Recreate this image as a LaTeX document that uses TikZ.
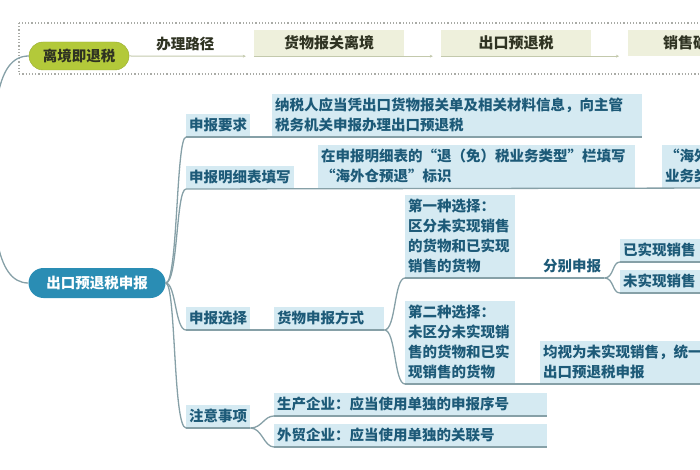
\documentclass[tikz,border=0pt]{standalone}
\usepackage{fontspec}
\setmainfont{Noto Sans CJK SC}
\usetikzlibrary{arrows.meta}

\definecolor{linec}{HTML}{86A0A7}
\definecolor{boxc}{HTML}{D5EAF2}
\definecolor{txtc}{HTML}{1D5A78}
\definecolor{rootc}{HTML}{2A8DB4}
\definecolor{greenc}{HTML}{B3C93A}
\definecolor{pathc}{HTML}{EEF0DC}
\definecolor{pathl}{HTML}{C3C9AC}
\definecolor{dotc}{HTML}{A9ABA6}
\definecolor{darkc}{HTML}{2F3322}

\tikzset{
  branch/.style={draw=linec, line width=1.3pt},
  pathline/.style={draw=pathl, line width=1pt},
  topic/.style={fill=boxc, text=txtc, anchor=south west, align=left,
    inner xsep=3pt, inner ysep=4.5pt},
  plain/.style={topic, fill=none},
  pathbox/.style={fill=pathc, text=darkc, minimum width=150pt, minimum height=26pt,
    font=\fontsize{15pt}{20pt}\selectfont\bfseries},
}

\begin{document}
\begin{tikzpicture}[x=1pt,y=-1pt,>={Stealth[length=3pt,width=3pt]},
  font=\fontsize{14.5pt}{20pt}\selectfont\bfseries]
\useasboundingbox (0,0) rectangle (700,470);
\clip (0,0) rectangle (700,470);
\coordinate (rootA) at (-3,100);
\coordinate (rootB) at (-3,240);

% top strip
\draw[dotted, draw=dotc, line width=1.2pt] (19,23) rectangle (730,74);
\node[fill=greenc, draw=greenc!85!black, text=darkc, rounded corners=14pt,
  minimum width=100pt, minimum height=28pt] (lj) at (79,56) {离境即退税};
\node[pathbox] (h1) at (329,43) {货物报关离境};
\node[pathbox] (h2) at (516,43) {出口预退税};
\node[pathbox, anchor=west, align=left, text width=80pt, inner xsep=35pt] (h3) at (628,43) {销售确认};
\draw[pathline,->,shorten >=8pt] (lj.east) -- node[pos=0.45, above=1pt, text=darkc] {办理路径} (h1.south west);
\draw[pathline,->,shorten >=8pt] (h1.south west) -- (h1.south east) -- (h2.south west);
\draw[pathline,->,shorten >=9pt] (h2.south west) -- (h2.south east) -- (h3.south west);

% main branch
\node[fill=rootc, text=white, rounded corners=15pt, minimum width=137pt,
  minimum height=30pt] (bl) at (97,283) {出口预退税申报};
\draw[branch] (lj.west) .. controls (12,56) and (2,70) .. (rootA);
\draw[branch] (rootB) .. controls (2,268) and (12,283) .. (bl.west);

\node[topic, text width=58pt] (r1) at (186,137) {申报要求};
\node[topic, text width=364pt] (r1a) at (272,137) {纳税人应当凭出口货物报关单及相关材料信息，向主管\\税务机关申报办理出口预退税};

\node[topic, text width=102pt] (r2) at (186,189) {申报明细表填写};
\node[topic, text width=311pt] (r2a) at (318,188) {在申报明细表的“退（免）税业务类型”栏填写\\“海外仓预退”标识};
\node[topic, text width=60pt] (r2b) at (662,188) {“海外\\业务类};

\node[topic, text width=58pt] (r3) at (186,330) {申报选择};
\node[topic, text width=104pt] (r3a) at (274,330) {货物申报方式};
\node[topic, text width=104pt] (c1) at (405,278) {第一种选择：\\区分未实现销售\\的货物和已实现\\销售的货物};
\node[plain, text width=58pt] (c1a) at (540,278) {分别申报};
\node[topic, text width=100pt] (c1b) at (620,262) {已实现销售};
\node[topic, text width=100pt] (c1c) at (620,293) {未实现销售};
\node[topic, text width=104pt] (c2) at (405,384) {第二种选择：\\未区分未实现销\\售的货物和已实\\现销售的货物};
\node[topic, text width=200pt] (c2a) at (540,384) {均视为未实现销售，统一\\出口预退税申报};

\node[topic, text width=58pt] (r4) at (186,428) {注意事项};
\node[topic, text width=267pt] (r4a) at (274,416) {生产企业：应当使用单独的申报序号};
\node[topic, text width=267pt] (r4b) at (274,447) {外贸企业：应当使用单独的关联号};

% connectors
\draw[branch] (bl.east) .. controls (178,283) and (176,137) .. (r1.south west);
\draw[branch] (bl.east) .. controls (178,283) and (176,189) .. (r2.south west);
\draw[branch] (bl.east) .. controls (176,283) and (175,330) .. (r3.south west);
\draw[branch] (bl.east) .. controls (176,283) and (173,428) .. (r4.south west);
\draw[branch] (r1.south west) -- (r1a.south east);
\draw[branch] (r2.south west) -- (r2b.south east);
\draw[branch] (r3.south west) -- (r3a.south east);
\draw[branch] (r3a.south east) .. controls (396,330) and (394,278) .. (c1.south west);
\draw[branch] (r3a.south east) .. controls (396,330) and (394,384) .. (c2.south west);
\draw[branch] (c1.south west) -- (c1a.south east);
\draw[branch] (c1a.south east) .. controls (614,278) and (612,262) .. (c1b.south west);
\draw[branch] (c1a.south east) .. controls (614,278) and (612,293) .. (c1c.south west);
\draw[branch] (c1b.south west) -- (c1b.south east);
\draw[branch] (c1c.south west) -- (c1c.south east);
\draw[branch] (c2.south west) -- (c2a.south east);
\draw[branch] (r4.south west) -- (r4.south east);
\draw[branch] (r4.south east) .. controls (262,428) and (264,416) .. (r4a.south west);
\draw[branch] (r4.south east) .. controls (262,428) and (264,447) .. (r4b.south west);
\draw[branch] (r4a.south west) -- (r4a.south east);
\draw[branch] (r4b.south west) -- (r4b.south east);
\end{tikzpicture}
\end{document}
